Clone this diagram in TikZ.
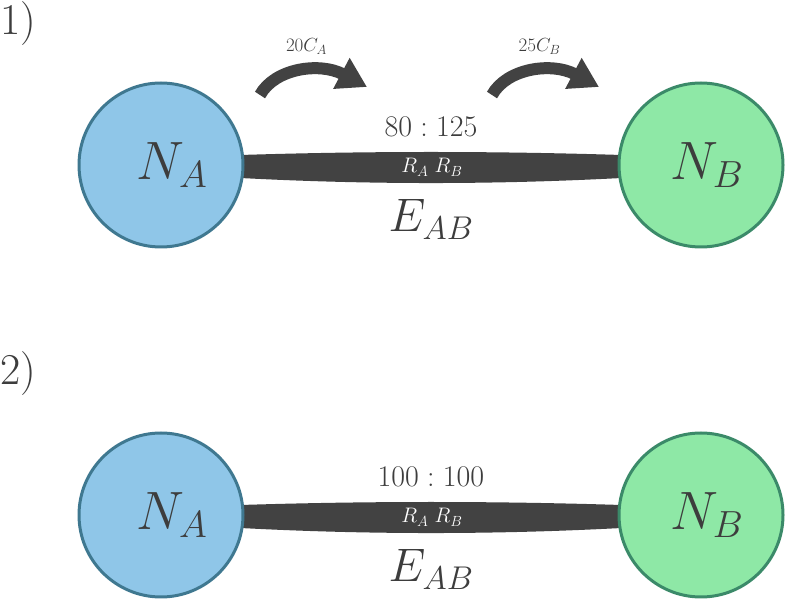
\RequirePackage{fix-cm}
\documentclass[tikz,border=0pt]{standalone}
\usepackage{amsmath}
\usepackage{tikz}
\usetikzlibrary{arrows.meta,backgrounds,calc}

\definecolor{txtgray}{HTML}{3D3D3D}
\definecolor{barcol}{HTML}{424242}
\definecolor{fillA}{HTML}{8FC6E8}
\definecolor{strokeA}{HTML}{3F7890}
\definecolor{fillB}{HTML}{8EE8A6}
\definecolor{strokeB}{HTML}{3B8A69}

\tikzset{
  nodeA/.style={shape=circle,draw=strokeA,fill=fillA,line width=3pt,minimum size=164pt,inner sep=0pt},
  nodeB/.style={shape=circle,draw=strokeB,fill=fillB,line width=3pt,minimum size=164pt,inner sep=0pt},
  nlabel/.style={text=txtgray,font=\fontsize{54}{60}\selectfont},
  ratio/.style={text=txtgray,font=\fontsize{30}{34}\selectfont,anchor=base},
  rlabel/.style={text=white,font=\fontsize{21}{25}\selectfont,anchor=base},
  elabel/.style={text=txtgray,font=\fontsize{47}{52}\selectfont,anchor=base},
  cost/.style={text=txtgray,font=\fontsize{19}{22}\selectfont,anchor=base},
  flow/.style={draw=barcol,line width=12pt,-{Triangle[width=33pt,length=29pt]}},
  rowno/.style={text=txtgray,font=\fontsize{44}{48}\selectfont,anchor=base west,inner sep=0pt}
}

\begin{document}
\begin{tikzpicture}[x=1pt,y=1pt]
	\useasboundingbox (0,0) rectangle (785,600);
	% row numbers
	\node (row1) [rowno] at (0,565) {1)};
	\node (row2) [rowno] at (0,215) {2)};
	% nodes
	\path (161,435) node (na1) [nodeA] {}
		  (701,435) node (nb1) [nodeB] {}
		  (161,85)  node (na2) [nodeA] {}
		  (701,85)  node (nb2) [nodeB] {};
	\foreach \n/\s in {na1/11,na2/11} \node [nlabel] at ([xshift=\s pt]\n.center) {$N_A$};
	\foreach \n/\s in {nb1/6,nb2/6} \node [nlabel] at ([xshift=\s pt]\n.center) {$N_B$};
	% edges
	\begin{scope}[on background layer]
		\foreach \a/\b in {na1/nb1,na2/nb2}
			\fill[barcol] ($(\a.east)+(-4,10)$)
				.. controls ($(\a.east)!.33!(\b.west)+(0,14)$) and ($(\a.east)!.67!(\b.west)+(0,14)$) .. ($(\b.west)+(4,10)$)
				-- ($(\b.west)+(4,-13)$)
				.. controls ($(\a.east)!.67!(\b.west)+(0,-19.7)$) and ($(\a.east)!.33!(\b.west)+(0,-19.7)$) .. ($(\a.east)+(-4,-13)$)
				-- cycle;
	\end{scope}
	\path (na1) -- (nb1) coordinate[midway] (m1);
	\path (na2) -- (nb2) coordinate[midway] (m2);
	\node (r1) [ratio]  at ($(m1)+(0,28)$)  {$80 : 125$};
	\node (r2) [ratio]  at ($(m2)+(0,28)$)  {$100 : 100$};
	\node (q1) [rlabel] at ($(m1)+(1,-8)$)  {$R_A\ R_B$};
	\node (q2) [rlabel] at ($(m2)+(1,-8)$)  {$R_A\ R_B$};
	\node (e1) [elabel] at ($(m1)+(0,-67)$) {$E_{AB}$};
	\node (e2) [elabel] at ($(m2)+(0,-67)$) {$E_{AB}$};
	% flows
	\coordinate (ta) at (260,505);
	\coordinate (ha) at (367,513);
	\coordinate (tb) at (492,505);
	\coordinate (hb) at (599,513);
	\draw[flow] (ta) .. controls (275,532) and (320,538) .. (ha);
	\draw[flow] (tb) .. controls (507,532) and (552,538) .. (hb);
	\node (ca) [cost] at (306.5,548) {$20C_A$};
	\node (cb) [cost] at (539.5,548) {$25C_B$};
\end{tikzpicture}
\end{document}
